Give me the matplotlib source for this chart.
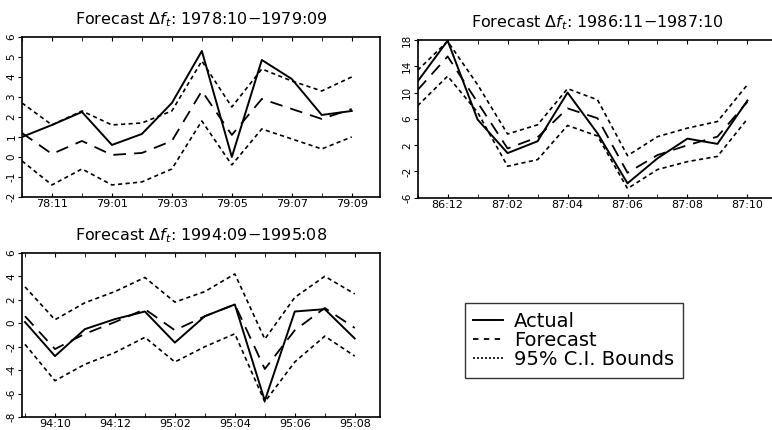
import matplotlib
matplotlib.use("Agg")
import matplotlib.pyplot as plt
from matplotlib.lines import Line2D

# ---- data ----
titles = ["Forecast $\\Delta f_t$: 1978:10$-$1979:09",
          "Forecast $\\Delta f_t$: 1986:11$-$1987:10",
          "Forecast $\\Delta f_t$: 1994:09$-$1995:08"]

xlabels1 = ["78:11", "79:01", "79:03", "79:05", "79:07", "79:09"]
xlabels2 = ["86:12", "87:02", "87:04", "87:06", "87:08", "87:10"]
xlabels3 = ["94:10", "94:12", "95:02", "95:04", "95:06", "95:08"]

actual1 = [1.0, 1.6, 2.25, 0.6, 1.15, 2.7, 5.3, 0.0, 4.85, 3.9, 2.1, 2.3]
fcst1 = [1.2, 0.15, 0.8, 0.1, 0.2, 0.8, 3.3, 1.1, 2.9, 2.4, 1.9, 2.4]
upper1 = [2.7, 1.6, 2.3, 1.6, 1.7, 2.3, 4.8, 2.5, 4.4, 3.8, 3.3, 4.0]
lower1 = [-0.2, -1.4, -0.6, -1.4, -1.25, -0.6, 1.8, -0.4, 1.4, 0.9, 0.4, 1.0]

actual2 = [11.7, 17.9, 5.9, 0.8, 2.6, 10.0, 3.8, -3.8, 0.0, 3.0, 2.2, 8.8]
fcst2 = [10.4, 15.5, 8.5, 1.5, 3.2, 7.6, 6.1, -2.2, 0.5, 2.0, 3.3, 8.6]
upper2 = [13.4, 17.8, 11.2, 3.7, 5.1, 10.6, 8.9, 0.4, 3.3, 4.6, 5.6, 11.2]
lower2 = [8.0, 12.5, 7.0, -1.2, -0.2, 5.0, 3.4, -4.6, -1.7, -0.5, 0.3, 6.0]

actual3 = [0.1, -2.8, -0.5, 0.35, 1.0, -1.65, 0.6, 1.6, -6.6, 1.0, 1.2, -1.3]
fcst3 = [0.6, -2.2, -0.9, 0.1, 1.2, -0.6, 0.6, 1.6, -3.9, -0.6, 1.3, -0.4]
upper3 = [3.1, 0.3, 1.75, 2.7, 3.9, 1.8, 2.7, 4.2, -1.35, 2.2, 4.0, 2.5]
lower3 = [-1.8, -4.9, -3.5, -2.5, -1.2, -3.3, -2.0, -0.9, -6.7, -3.3, -1.1, -2.8]

yticks1 = [-2, -1, 0, 1, 2, 3, 4, 5, 6]
yticks2 = [-6, -2, 2, 6, 10, 14, 18]
yticks3 = [-8, -6, -4, -2, 0, 2, 4, 6]

panels = [
    dict(pos=[0.0285, 0.542, 0.464, 0.372], title=titles[0], xl=xlabels1,
         a=actual1, f=fcst1, u=upper1, l=lower1, yt=yticks1, xlim=(0, 11.95)),
    dict(pos=[0.541, 0.540, 0.466, 0.367], title=titles[1], xl=xlabels2,
         a=actual2, f=fcst2, u=upper2, l=lower2, yt=yticks2, xlim=(0, 12)),
    dict(pos=[0.0285, 0.030, 0.464, 0.382], title=titles[2], xl=xlabels3,
         a=actual3, f=fcst3, u=upper3, l=lower3, yt=yticks3, xlim=(-0.1, 11.85)),
]

plt.rcParams['font.family'] = ['DejaVu Sans']
plt.rcParams['mathtext.fontset'] = 'dejavusans'

fig = plt.figure(figsize=(7.72, 4.30), dpi=100)

for p in panels:
    ax = fig.add_axes(p["pos"])
    x = list(range(len(p["a"])))
    ax.plot(x, p["u"], color="black", lw=1.2, linestyle=(0, (2.5, 2)))
    ax.plot(x, p["l"], color="black", lw=1.2, linestyle=(0, (2.5, 2)))
    ax.plot(x, p["f"], color="black", lw=1.3, linestyle=(0, (7, 4.5)))
    ax.plot(x, p["a"], color="black", lw=1.4)
    ax.set_xlim(*p["xlim"])
    ax.set_ylim(p["yt"][0], p["yt"][-1])
    ax.set_yticks(p["yt"])
    ax.set_yticklabels([str(v) for v in p["yt"]], rotation=90, va="center", fontsize=7.5)
    ax.set_xticks(x[1::2])
    ax.set_xticklabels(p["xl"], fontsize=8)
    ax.set_xticks(x, minor=True)
    ax.tick_params(axis="x", which="both", direction="in", top=True, length=3, pad=1.5)
    ax.tick_params(axis="y", direction="out", length=3, pad=1)
    for s in ax.spines.values():
        s.set_linewidth(1.2)
    ax.set_title(p["title"], fontsize=11.5, pad=9)

handles = [Line2D([], [], color="black", lw=1.4),
           Line2D([], [], color="black", lw=1.3, linestyle=(0, (3, 3))),
           Line2D([], [], color="black", lw=1.2, linestyle=(0, (1.2, 1.2)))]
leg = fig.legend(handles, ["Actual", "Forecast", "95% C.I. Bounds"],
                 loc="upper left", bbox_to_anchor=(0.602, 0.295),
                 fontsize=14, frameon=True, fancybox=False, edgecolor="black",
                 handlelength=1.5, handletextpad=0.6, labelspacing=0.0,
                 borderpad=0.45, borderaxespad=0)
leg.get_frame().set_linewidth(1.0)

fig.savefig("out.png", dpi=100)
